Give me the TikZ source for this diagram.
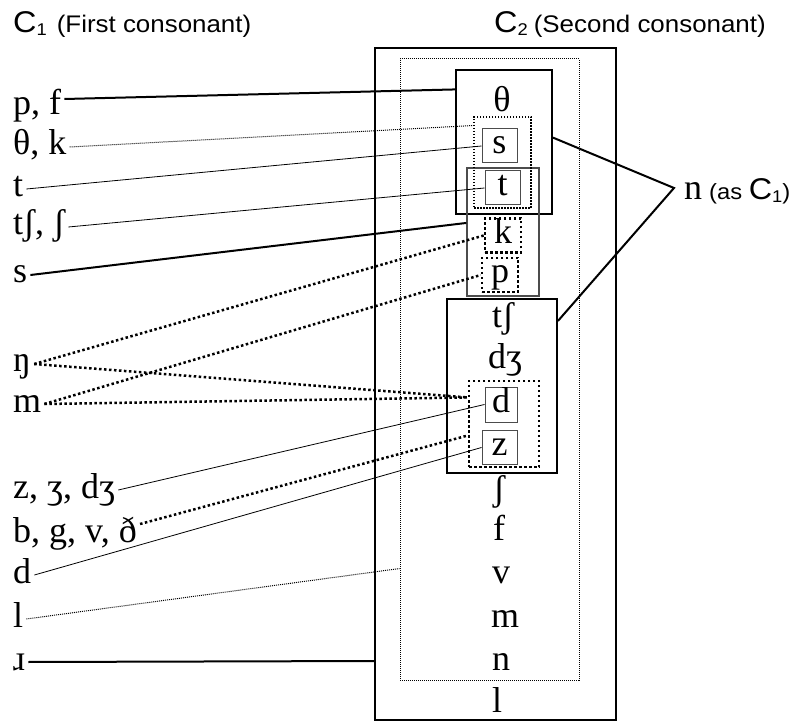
\documentclass[tikz,border=0pt]{standalone}
\usepackage{fontspec}
\setmainfont{Liberation Serif}
\newfontfamily\hdr[FakeStretch=1.08]{Liberation Sans}
\usetikzlibrary{calc}
\newcommand{\Csub}[1]{{\fontsize{30}{30}\selectfont C}\raisebox{-2.5pt}{\fontsize{17}{17}\selectfont #1}}
\begin{document}
\begin{tikzpicture}[x=1pt,y=-1pt,
  ipa/.style={font=\fontsize{36}{36}\selectfont, inner sep=0pt, text height=25pt, text depth=9pt},
  lab/.style={ipa, anchor=west, inner xsep=3pt},
  col/.style={ipa},
  lbox/.style={ipa, draw=black!70, line width=1pt},
  bigbox/.style={draw, line width=2pt, inner sep=0pt},
  greybox/.style={draw=black!70, line width=1.3pt, inner sep=0pt},
  dotbox/.style={draw, line width=2.5pt, dash pattern=on 2.5pt off 2.5pt, inner sep=0pt},
  meddotbox/.style={draw, line width=1.5pt, dash pattern=on 1.5pt off 1.5pt, inner sep=0pt},
  thindotbox/.style={draw, line width=1pt, dash pattern=on 1pt off 1pt, inner sep=0pt},
  thickl/.style={line width=2pt},
  thinl/.style={line width=0.8pt},
  dotthick/.style={line width=2.5pt, dash pattern=on 2.5pt off 2.5pt},
  dotthin/.style={line width=1pt, dash pattern=on 1pt off 1pt},
  hdrtext/.style={font=\hdr, inner sep=0pt, anchor=base west}
]
\useasboundingbox (0,0) rectangle (796,722);

% headers
\node[hdrtext] (h1) at (13,33) {\Csub{1}\hspace{10pt}{\fontsize{24}{24}\selectfont (First consonant)}};
\node[hdrtext] (h2) at (494,33) {\Csub{2}\hspace{6pt}{\fontsize{24}{24}\selectfont (Second consonant)}};

% big boxes
\node[bigbox, minimum width=241pt, minimum height=672pt] (outbox) at (495.5,384) {};
\node[thindotbox, minimum width=179pt, minimum height=621pt] (inbox) at (489.5,369.5) {};
\node[bigbox, minimum width=96pt, minimum height=144pt] (thbox) at (504,142) {};
\node[greybox, minimum width=72pt, minimum height=128pt] (kpbox) at (503,232) {};
\node[meddotbox, minimum width=57pt, minimum height=91pt] (stbox) at (502.5,162.5) {};
\node[bigbox, minimum width=110pt, minimum height=174pt] (tshbox) at (502,386) {};
\node[dotbox, minimum width=70pt, minimum height=86pt] (dzbox) at (504,424) {};

% column letters
\node[col] (cth) at (502,104) {θ};
\node[lbox, minimum width=35pt, minimum height=30pt] (bs) at (499.5,146) {s};
\node[lbox, minimum width=35pt, minimum height=30pt] (bt) at (502.5,188) {t};
\node[ipa, dotbox, minimum width=36pt, minimum height=33pt] (bk) at (503,235.5) {k};
\node[ipa, dotbox, minimum width=36pt, minimum height=32pt] (bp) at (500,275) {p};
\node[col] (ctsh) at (503,319) {tʃ};
\node[col] (cdzh) at (505,360) {dʒ};
\node[lbox, minimum width=32pt, minimum height=35pt] (bd) at (501,404.5) {d};
\node[lbox, minimum width=35pt, minimum height=29pt] (bz) at (499.5,447.5) {z};
\node[col] (csh) at (499,492) {ʃ};
\node[col] (cf) at (499,532) {f};
\node[col] (cv) at (501,575) {v};
\node[col] (cm) at (505,619) {m};
\node[col] (cn) at (501,662) {n};
\node[col] (cl) at (497,704) {l};

% left labels
\node[lab] (lpf) at (10,107) {p, f};
\node[lab] (lthk) at (10,147) {θ, k};
\node[lab] (lt) at (10,189) {t};
\node[lab] (ltsh) at (10,227) {tʃ, ʃ};
\node[lab] (ls) at (10,275) {s};
\node[lab] (leng) at (10,364) {ŋ};
\node[lab] (lm) at (10,404) {m};
\node[lab] (lzh) at (10,490) {z, ʒ, dʒ};
\node[lab] (lbgv) at (10,534) {b, g, v, ð};
\node[lab] (ld) at (10,575) {d};
\node[lab] (ll) at (10,619) {l};
\node[lab] (lr) at (10,662) {ɹ};

% n (as C1)
\coordinate (njoin) at (674,188);
\node[inner sep=0pt, anchor=base west] (nlab) at (684,200) {{\fontsize{36}{36}\selectfont n}\hspace{7pt}{\hdr\fontsize{22}{22}\selectfont (as \Csub{1})}};

% connectors
\draw[thickl] ($(lpf.east)+(0,-8)$) -- ($(thbox.north west)!0.14!(thbox.south west)$);
\draw[dotthin] (lthk.east) -- ($(stbox.north west)!0.10!(stbox.south west)$);
\draw[thinl] (lt.east) -- (bs.west);
\draw[thinl] (ltsh.east) -- (bt.west);
\draw[thickl] (ls.east) -- ($(kpbox.north west)!0.43!(kpbox.south west)$);
\draw[dotthick] (leng.east) -- (bk.west);
\draw[dotthick] (leng.east) -- ($(dzbox.north west)!0.2!(dzbox.south west)$);
\draw[dotthick] (lm.east) -- (bp.west);
\draw[dotthick] (lm.east) -- ($(dzbox.north west)!0.2!(dzbox.south west)$);
\draw[thinl] (lzh.east) -- (bd.west);
\draw[dotthick] ($(lbgv.east)+(0,-10)$) -- ($(dzbox.north west)!0.63!(dzbox.south west)$);
\draw[thinl] (ld.east) -- (bz.west);
\draw[dotthin] (ll.east) -- ($(inbox.north west)!0.82!(inbox.south west)$);
\draw[thickl] (lr.east) -- ($(outbox.north west)!0.911!(outbox.south west)$);
\draw[thickl] ($(thbox.north east)!0.47!(thbox.south east)$) -- (njoin) -- ($(tshbox.north east)!0.13!(tshbox.south east)$);
\end{tikzpicture}
\end{document}
